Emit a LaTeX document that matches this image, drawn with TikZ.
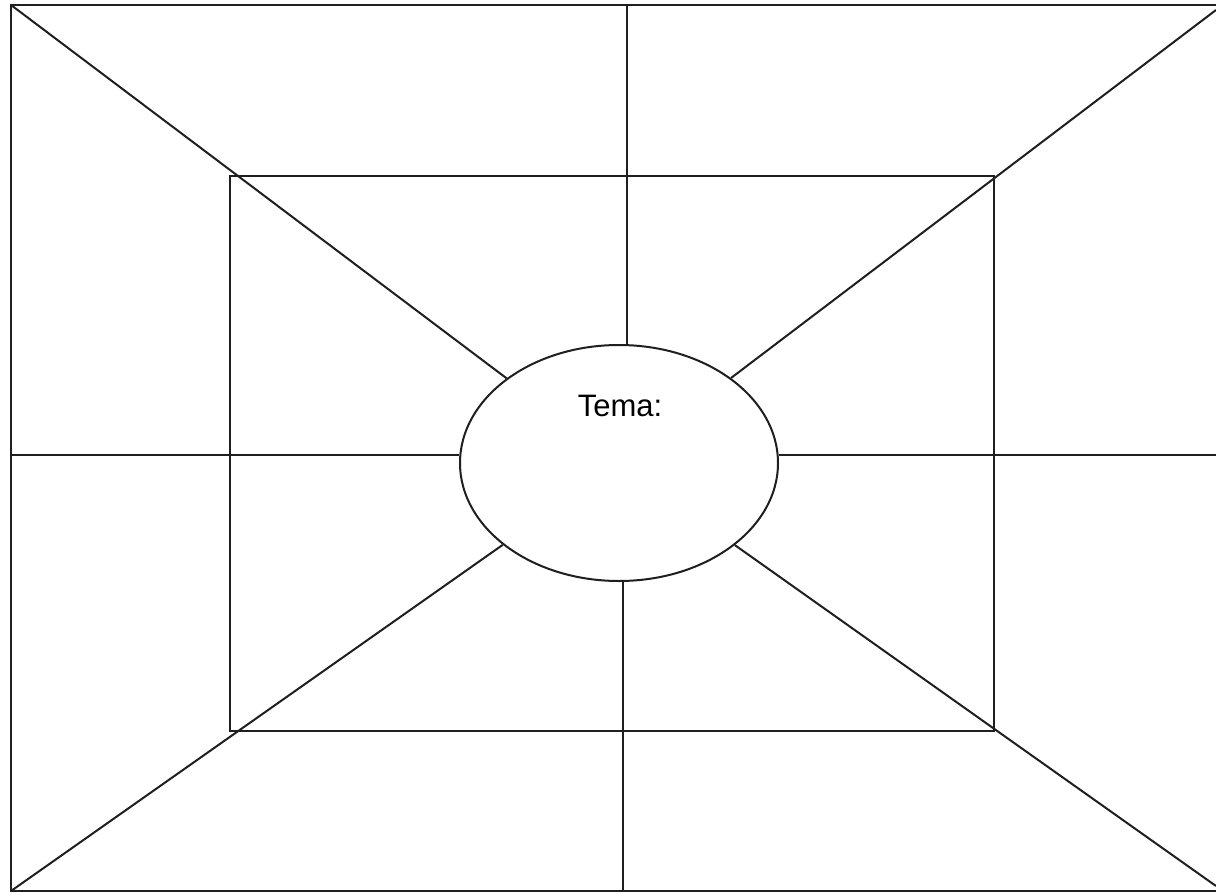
\documentclass[tikz,border=0pt]{standalone}
\usepackage{fontspec}
\setmainfont{Liberation Sans}
\usetikzlibrary{shapes.geometric}
\begin{document}
\begin{tikzpicture}[x=1pt,y=-1pt,
  ln/.style={line width=2pt,draw=black!88},
  hub/.style={ellipse,ln,fill=white,minimum width=318pt,minimum height=236pt,inner sep=0pt}]
\useasboundingbox (0,0) rectangle (1216,894);
% outer frame (right side cut off)
\coordinate (otr) at (1218,5);
\coordinate (otl) at (11,5);
\coordinate (obl) at (11,891);
\coordinate (obr) at (1218,891);
\draw[ln] (otr) -- (otl) -- (obl) -- (obr);
% inner rectangle
\node[ln,draw,minimum width=764pt,minimum height=555pt,inner sep=0pt] (inner) at (612,453.5) {};
% centre ellipse
\node[hub] (c) at (619,463) {};
\node[font=\fontsize{31}{36}\selectfont,anchor=base] (t) at (620,416) {Tema:};
% diagonal corner points
\coordinate (dtl) at (11,5);
\coordinate (dtr) at (1216,10);
\coordinate (dbl) at (11,891);
\coordinate (dbr) at (1216,886);
\draw[ln] (dtl) -- (c);
\draw[ln] (dtr) -- (c);
\draw[ln] (dbl) -- (c);
\draw[ln] (dbr) -- (c);
% vertical and horizontal connectors
\coordinate (vt) at (627,5);
\coordinate (vb) at (623,891);
\coordinate (hl) at (11,455);
\coordinate (hr) at (1216,455);
\draw[ln] (vt) -- (vt |- c.north);
\draw[ln] (vb) -- (vb |- c.south);
\draw[ln] (hl) -- (hl -| c.west);
\draw[ln] (hr) -- (hr -| c.east);
\end{tikzpicture}
\end{document}
